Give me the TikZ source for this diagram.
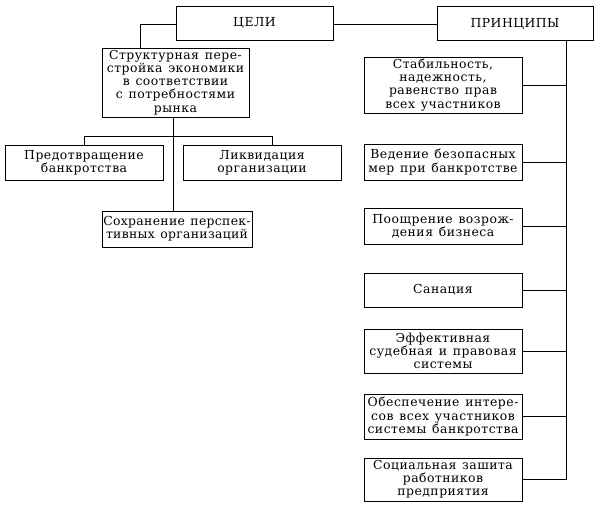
\documentclass[tikz,border=0pt]{standalone}
\usepackage{fontspec}
\setmainfont{DejaVu Serif}[LetterSpace=4,WordSpace=1.3]
\begin{document}
\begin{tikzpicture}[x=1pt,y=-1pt,
  box/.style={draw, line width=0.9pt, inner sep=0pt, align=center,
    font=\fontsize{12.4}{13.1}\selectfont},
  ln/.style={line width=0.8pt}]
\useasboundingbox (0,0) rectangle (600,506);
\node[box, minimum width=157, minimum height=34] (celi) at (254.5,23) {ЦЕЛИ};
\node[box, minimum width=156, minimum height=34] (prin) at (515,23.5) {ПРИНЦИПЫ};
\node[box, minimum width=147, minimum height=69] (struct) at (175.5,82.5)
  {Структурная пере-\\стройка экономики\\в соответствии\\с потребностями\\рынка};
\node[box, minimum width=158, minimum height=35] (pred) at (84,162.5)
  {Предотвращение\\банкротства};
\node[box, minimum width=158, minimum height=35] (likv) at (262,162.5)
  {Ликвидация\\организации};
\node[box, minimum width=150, minimum height=36,
  font=\fontsize{12.4}{13.1}\selectfont\addfontfeature{LetterSpace=2.5}] (sohr) at (177,229)
  {Сохранение перспек-\\тивных организаций};
\node[box, minimum width=158, minimum height=56] (stab) at (443,85)
  {Стабильность,\\надежность,\\равенство прав\\всех участников};
\node[box, minimum width=158, minimum height=36] (ved) at (443,162)
  {Ведение безопасных\\мер при банкротстве};
\node[box, minimum width=158, minimum height=36] (poos) at (443,226)
  {Поощрение возрож-\\дения бизнеса};
\node[box, minimum width=158, minimum height=34] (san) at (443,290)
  {Санация};
\node[box, minimum width=158, minimum height=44] (eff) at (443,351)
  {Эффективная\\судебная и правовая\\системы};
\node[box, minimum width=158, minimum height=45] (obes) at (443,416.5)
  {Обеспечение интере-\\сов всех участников\\системы банкротства};
\node[box, minimum width=158, minimum height=43] (soc) at (443,479.5)
  {Социальная зашита\\работников\\предприятия};
% connectors
\coordinate (kl) at (140,24);
\coordinate (br) at (173,136);
\coordinate (bl) at (84,136);
\coordinate (brr) at (272,136);
\coordinate (vr) at (566,41);
\coordinate (vend) at (566,480);
\draw[ln] (celi.east |- 0,24) -- (prin.west |- 0,24);
\draw[ln] (celi.west |- kl) -| (kl |- struct.north);
\draw[ln] (br |- struct.south) -- (br |- sohr.north);
\draw[ln] (bl |- pred.north) -- (bl) -- (brr) -- (brr |- likv.north);
\draw[ln] (vr |- prin.south) -- (vend);
\foreach \n in {stab,ved,poos,san,eff,obes,soc}
  \draw[ln] (\n.east) -- (\n.east -| vr);
\end{tikzpicture}
\end{document}
